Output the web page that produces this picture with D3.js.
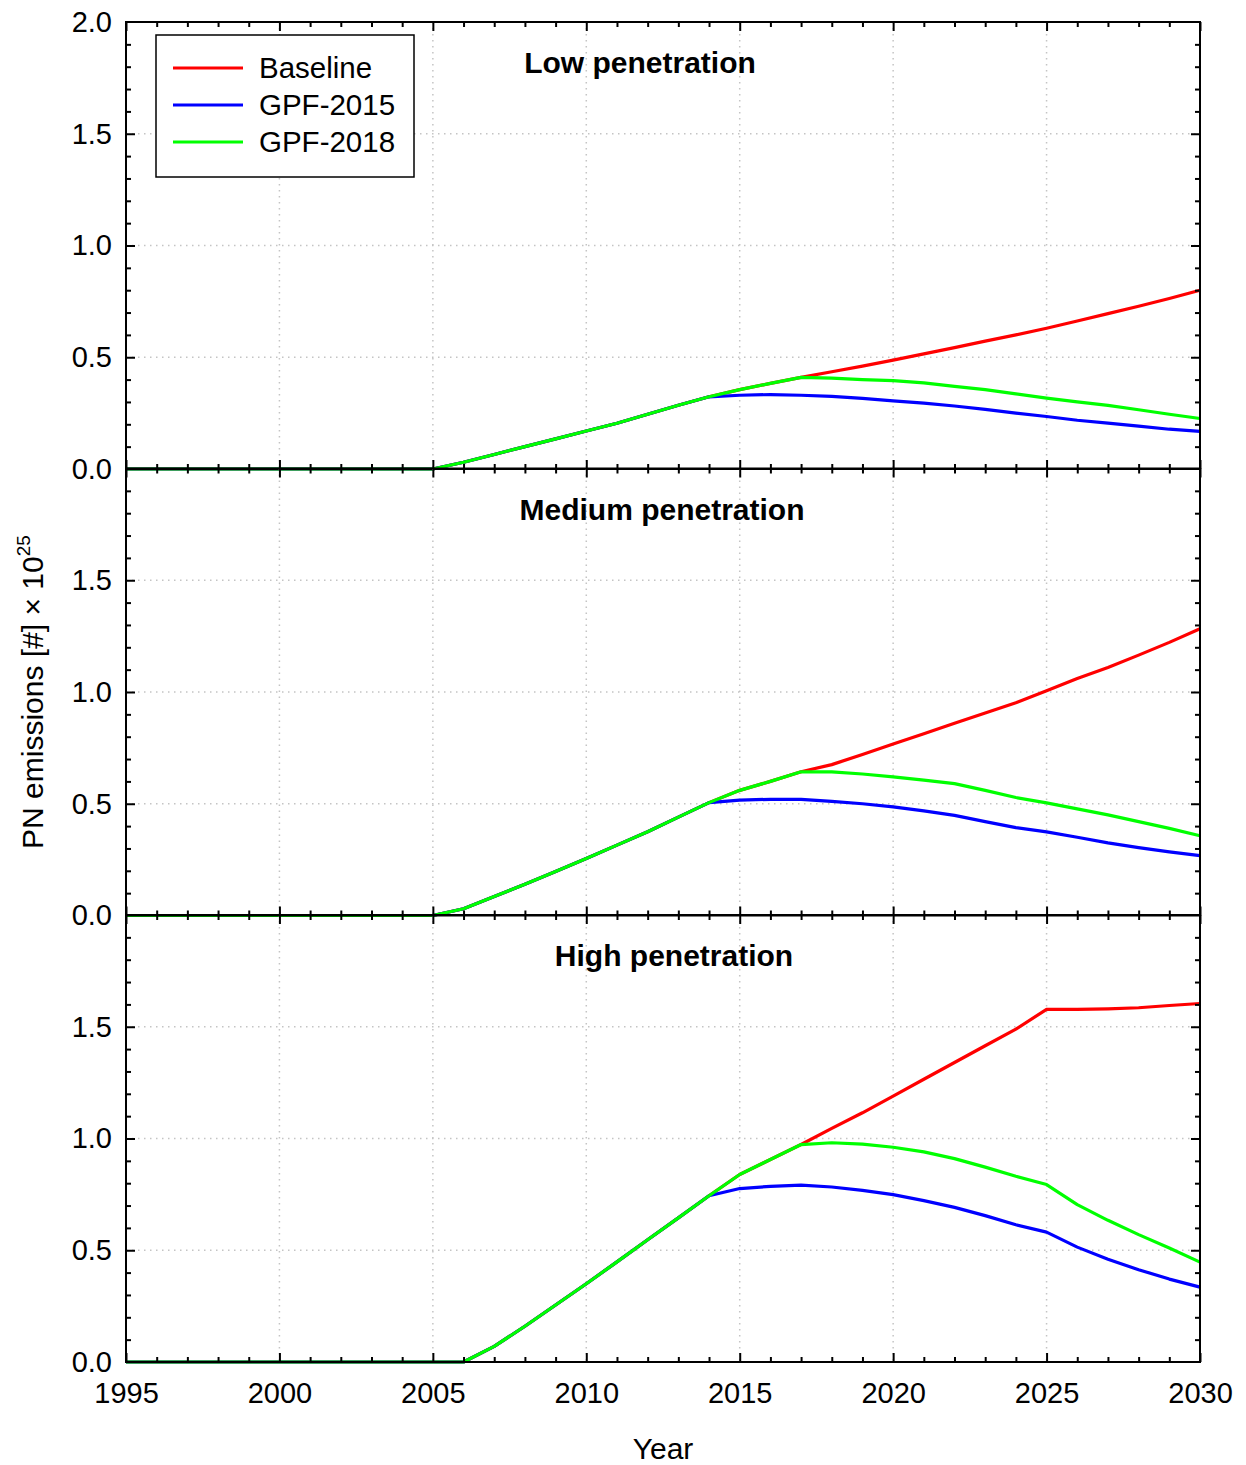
<!doctype html>
<html>
<head>
  <meta charset="utf-8">
  <title>PN emissions</title>
  <script src="https://cdnjs.cloudflare.com/ajax/libs/d3/7.8.5/d3.min.js"></script>
  <style>
    html, body { margin: 0; padding: 0; background: #fff; }
    svg text { font-family: "Liberation Sans", Arial, sans-serif; fill: #000; }
  </style>
</head>
<body>
<div id="chart"></div>
<script>
// ---- data ----
const years = d3.range(1995, 2031);
const seriesNames = ["Baseline", "GPF-2015", "GPF-2018"];
const panelTitles = ["Low penetration", "Medium penetration", "High penetration"];
const xTickLabels = [1995, 2000, 2005, 2010, 2015, 2020, 2025, 2030];

// low penetration
const lowBaseline = [0,0,0,0,0,0,0,0,0,0,0, 0.03,0.065,0.10,0.135,0.17,0.205,0.245,0.285,0.323,
  0.355,0.383,0.41,0.435,0.46,0.487,0.515,0.543,0.572,0.60,0.63,0.662,0.695,0.728,0.763,0.80];
const lowGpf2015 = [0,0,0,0,0,0,0,0,0,0,0, 0.03,0.065,0.10,0.135,0.17,0.205,0.245,0.285,0.323,
  0.33,0.333,0.33,0.325,0.316,0.305,0.295,0.282,0.267,0.25,0.235,0.218,0.205,0.192,0.178,0.168];
const lowGpf2018 = [0,0,0,0,0,0,0,0,0,0,0, 0.03,0.065,0.10,0.135,0.17,0.205,0.245,0.285,0.323,
  0.355,0.383,0.41,0.407,0.40,0.395,0.385,0.37,0.355,0.336,0.317,0.30,0.285,0.265,0.245,0.226];

// medium penetration
const medBaseline = [0,0,0,0,0,0,0,0,0,0,0, 0.03,0.085,0.14,0.197,0.255,0.315,0.375,0.44,0.505,
  0.56,0.60,0.643,0.675,0.72,0.767,0.813,0.86,0.906,0.952,1.006,1.06,1.11,1.165,1.222,1.283];
const medGpf2015 = [0,0,0,0,0,0,0,0,0,0,0, 0.03,0.085,0.14,0.197,0.255,0.315,0.375,0.44,0.505,
  0.516,0.52,0.52,0.511,0.50,0.486,0.468,0.448,0.42,0.393,0.374,0.35,0.325,0.304,0.285,0.268];
const medGpf2018 = [0,0,0,0,0,0,0,0,0,0,0, 0.03,0.085,0.14,0.197,0.255,0.315,0.375,0.44,0.505,
  0.56,0.60,0.643,0.643,0.633,0.62,0.606,0.59,0.56,0.528,0.504,0.477,0.45,0.42,0.39,0.357];

// high penetration
const highBaseline = [0,0,0,0,0,0,0,0,0,0,0,0, 0.07,0.16,0.255,0.35,0.448,0.547,0.645,0.744,
  0.839,0.906,0.973,1.045,1.115,1.19,1.265,1.34,1.415,1.489,1.578,1.578,1.58,1.585,1.595,1.604];
const highGpf2015 = [0,0,0,0,0,0,0,0,0,0,0,0, 0.07,0.16,0.255,0.35,0.448,0.547,0.645,0.744,
  0.776,0.786,0.791,0.783,0.768,0.749,0.722,0.692,0.655,0.614,0.581,0.514,0.46,0.413,0.371,0.335];
const highGpf2018 = [0,0,0,0,0,0,0,0,0,0,0,0, 0.07,0.16,0.255,0.35,0.448,0.547,0.645,0.744,
  0.839,0.906,0.973,0.981,0.975,0.961,0.94,0.91,0.872,0.831,0.794,0.704,0.634,0.57,0.51,0.447];

const panels = [
  [lowBaseline, lowGpf2015, lowGpf2018],
  [medBaseline, medGpf2015, medGpf2018],
  [highBaseline, highGpf2015, highGpf2018]
];

// ---- layout ----
const W = 1246, H = 1465;
const left = 126, right = 1200;
const panelTops = [22, 468.5, 915];
const panelH = 447;
const colors = ["#ff0000", "#0000ff", "#00ff00"];
const titleX = [640, 662, 674];
const fontSize = 29;

const svg = d3.select('#chart').append('svg')
  .attr('width', W)
  .attr('height', H);

const x = d3.scaleLinear().domain([1995, 2030]).range([left, right]);

const majorYears = d3.range(1995, 2031, 5);
const minorYears = years.filter(d => d % 5 != 0);
const gridYears = [2000, 2005, 2010, 2015, 2020, 2025];

panels.forEach((series, p) => {
  const top = panelTops[p], bottom = top + panelH;
  const y = d3.scaleLinear().domain([0, 2]).range([bottom, top]);
  const g = svg.append('g');

  // dotted grid
  g.selectAll('.gx').data(gridYears).join('line')
    .attr('x1', d => x(d)).attr('x2', d => x(d))
    .attr('y1', top).attr('y2', bottom)
    .style('stroke', '#c4c4c4').style('stroke-width', 1.5)
    .style('stroke-dasharray', '1.5,4.5');
  g.selectAll('.gy').data([0.5, 1.0, 1.5]).join('line')
    .attr('x1', left).attr('x2', right)
    .attr('y1', d => y(d)).attr('y2', d => y(d))
    .style('stroke', '#c4c4c4').style('stroke-width', 1.5)
    .style('stroke-dasharray', '1.5,4.5');

  // lines
  const line = d3.line()
    .x((d, i) => x(years[i]))
    .y(d => y(d));
  series.forEach((vals, s) => {
    g.append('path')
      .datum(vals)
      .attr('d', line)
      .style('fill', 'none')
      .style('stroke', colors[s])
      .style('stroke-width', 3.2)
      .style('stroke-linejoin', 'round');
  });

  // inward ticks on all four sides
  const tickAxis = (axis, vals, size, transform) => {
    const a = g.append('g').attr('transform', transform)
      .call(axis.tickValues(vals).tickSize(-size).tickFormat(''));
    a.select('.domain').remove();
    a.selectAll('line').style('stroke', '#000').style('stroke-width', 2);
  };
  const yMinor = d3.range(1, 20).map(d => d / 10).filter(d => Math.round(d * 10) % 5 != 0);
  const yMajor = [0.5, 1.0, 1.5];
  tickAxis(d3.axisBottom(x), minorYears, 5, `translate(0,${bottom})`);
  tickAxis(d3.axisBottom(x), majorYears, 9, `translate(0,${bottom})`);
  tickAxis(d3.axisTop(x), minorYears, 5, `translate(0,${top})`);
  tickAxis(d3.axisTop(x), majorYears, 9, `translate(0,${top})`);
  tickAxis(d3.axisLeft(y), yMinor, 5, `translate(${left},0)`);
  tickAxis(d3.axisLeft(y), yMajor, 9, `translate(${left},0)`);
  tickAxis(d3.axisRight(y), yMinor, 5, `translate(${right},0)`);
  tickAxis(d3.axisRight(y), yMajor, 9, `translate(${right},0)`);

  // frame
  g.append('rect')
    .attr('x', left).attr('y', top)
    .attr('width', right - left).attr('height', panelH)
    .style('fill', 'none').style('stroke', '#000').style('stroke-width', 2);

  // y tick labels
  const yLabels = p == 0 ? [0, 0.5, 1.0, 1.5, 2.0] : [0, 0.5, 1.0, 1.5];
  const ya = g.append('g').attr('transform', `translate(${left},0)`)
    .call(d3.axisLeft(y).tickValues(yLabels).tickSize(0).tickPadding(14).tickFormat(d3.format('.1f')));
  ya.select('.domain').remove();
  ya.selectAll('text').style('font-size', fontSize + 'px').attr('fill', '#000');

  // panel title
  g.append('text')
    .attr('x', titleX[p]).attr('y', top + 51)
    .attr('text-anchor', 'middle')
    .style('font-size', '30px').style('font-weight', 'bold')
    .text(panelTitles[p]);

  // x labels on the last panel
  if (p == panels.length - 1) {
    const xa = g.append('g').attr('transform', `translate(0,${bottom})`)
      .call(d3.axisBottom(x).tickValues(xTickLabels).tickSize(0).tickFormat(d3.format('d')));
    xa.select('.domain').remove();
    xa.selectAll('text').attr('y', 31).attr('dy', '0.35em')
      .style('font-size', fontSize + 'px').attr('fill', '#000');
  }
});

// axis titles
svg.append('text')
  .attr('x', 663).attr('y', 1459)
  .attr('text-anchor', 'middle')
  .style('font-size', '30px')
  .text('Year');

const yTitle = svg.append('text')
  .attr('transform', 'translate(43,692) rotate(-90)')
  .attr('text-anchor', 'middle')
  .style('font-size', '30px');
yTitle.append('tspan').text('PN emissions [#] \u00d7 10');
yTitle.append('tspan').attr('dy', -13).style('font-size', '19px').text('25');

// legend
const legend = svg.append('g');
legend.append('rect')
  .attr('x', 156).attr('y', 35).attr('width', 258).attr('height', 142)
  .style('fill', '#fff').style('stroke', '#000').style('stroke-width', 1.5);
const items = legend.selectAll('.item').data(seriesNames).join('g')
  .attr('transform', (d, i) => `translate(0,${68 + i * 37})`);
items.append('line')
  .attr('x1', 173).attr('x2', 243)
  .style('stroke', (d, i) => colors[i]).style('stroke-width', 3);
items.append('text')
  .attr('x', 259).attr('dy', '0.35em')
  .style('font-size', '29.5px')
  .text(d => d);
</script>
</body>
</html>
